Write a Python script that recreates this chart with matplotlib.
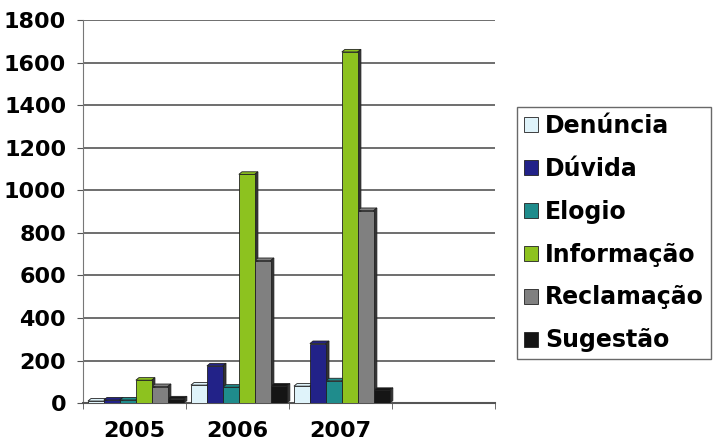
import numpy as np
import matplotlib
matplotlib.use("Agg")
import matplotlib.pyplot as plt
from matplotlib.patches import Polygon

plt.rcParams['font.family'] = ['DejaVu Sans']
plt.rcParams['font.weight'] = 'bold'

years = ['2005', '2006', '2007', '']
series = ['Denúncia', 'Dúvida', 'Elogio', 'Informação', 'Reclamação', 'Sugestão']
denuncia = [10, 85, 80, 0]
duvida = [15, 175, 280, 0]
elogio = [15, 75, 105, 0]
informacao = [108, 1075, 1650, 0]
reclamacao = [78, 670, 905, 0]
sugestao = [20, 80, 60, 0]
colors = ['#dff3fa', '#222288', '#1f8c8c', '#8dc21f', '#808080', '#151515']

values = [denuncia, duvida, elogio, informacao, reclamacao, sugestao]

fig = plt.figure(figsize=(7.14, 4.45), dpi=100)
ax = fig.add_axes([0.116, 0.094, 0.577, 0.861])

x = np.arange(len(years))
w = 0.155
dx, dy = 0.03, 12  # depth offset for the 3d look
for i, (name, vals, c) in enumerate(zip(series, values, colors)):
    pos = x - 0.45 + w * i + w / 2
    ax.bar(pos, vals, width=w, color=c, edgecolor='#222222', linewidth=0.6,
           label=name, zorder=3)
    for p, v in zip(pos, vals):
        if v <= 0:
            continue
        l, r = p - w / 2, p + w / 2
        top = Polygon([[l, v], [l + dx, v + dy], [r + dx, v + dy], [r, v]],
                      closed=True, facecolor=c, edgecolor='#222222', lw=0.6, zorder=2)
        side = Polygon([[r, 0], [r + dx, dy], [r + dx, v + dy], [r, v]],
                       closed=True, facecolor='#333333', edgecolor='#222222', lw=0.6, zorder=2)
        ax.add_patch(top)
        ax.add_patch(side)

ax.set_xlim(-0.5, len(years) - 0.5)
ax.set_ylim(0, 1800)
ax.set_yticks(np.arange(0, 1801, 200))
ax.set_xticks(np.arange(len(years) + 1) - 0.5, minor=True)
ax.set_xticks(x)
ax.set_xticklabels(years)
ax.tick_params(axis='x', which='major', length=0, pad=13)
ax.tick_params(axis='x', which='minor', length=4, color='#555555')
ax.tick_params(axis='y', length=4, color='#555555', pad=8)
for lab in ax.get_xticklabels() + ax.get_yticklabels():
    lab.set_fontsize(16)
    lab.set_fontweight('bold')

ax.yaxis.grid(True, color='#555555', linewidth=1.2, zorder=0)
ax.set_axisbelow(True)
for s in ['top', 'right']:
    ax.spines[s].set_visible(False)
ax.spines['left'].set_color('#777777')
ax.spines['bottom'].set_color('#555555')
ax.spines['bottom'].set_linewidth(1.5)

leg = fig.legend(loc='upper left', bbox_to_anchor=(0.724, 0.76), frameon=True,
                 fancybox=False, edgecolor='#444444',
                 prop={'weight': 'bold', 'size': 17}, handlelength=0.6,
                 handleheight=0.6, handletextpad=0.3, labelspacing=0.8,
                 borderpad=0.3, borderaxespad=0)
leg.get_frame().set_linewidth(1.0)

fig.savefig('out.png', dpi=100)
